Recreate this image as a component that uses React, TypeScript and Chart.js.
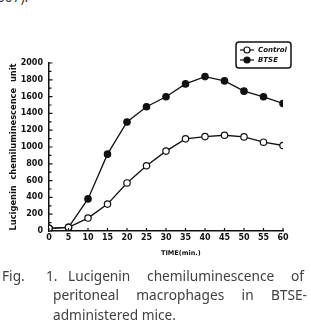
import React, { useEffect, useRef } from "react";
import { Chart, registerables } from "chart.js";

Chart.register(...registerables);

const times = [0, 5, 10, 15, 20, 25, 30, 35, 40, 45, 50, 55, 60];
const controlValues = [32, 44, 154, 320, 572, 777, 951, 1097, 1124, 1140, 1120, 1057, 1018];
const btseValues = [32, 44, 382, 915, 1298, 1479, 1598, 1751, 1838, 1787, 1665, 1598, 1518];
const seriesNames = ["Control", "BTSE"];
const yTickLabels = [0, 200, 400, 600, 800, 1000, 1200, 1400, 1600, 1800, 2000];
const xTickLabels = [0, 5, 10, 15, 20, 25, 30, 35, 40, 45, 50, 55, 60];
const yTitle = "Lucigenin  chemiluminescence  unit";
const xTitle = "TIME(min.)";

const tickFont = { family: "'DejaVu Sans', sans-serif", size: 8, weight: "bold" as const };

const innerTicks = {
  id: "innerTicks",
  afterDraw(chart: any) {
    const ctx = chart.ctx;
    const xs = chart.scales.x;
    const ys = chart.scales.y;
    const area = chart.chartArea;
    ctx.save();
    ctx.strokeStyle = "#111";
    ctx.lineWidth = 1.2;
    ctx.beginPath();
    for (const t of xTickLabels) {
      const px = xs.getPixelForValue(t);
      ctx.moveTo(px, area.bottom);
      ctx.lineTo(px, area.bottom - 3);
    }
    for (let v = 0; v <= 2000; v += 100) {
      const py = ys.getPixelForValue(v);
      ctx.moveTo(area.left, py);
      ctx.lineTo(area.left + (v % 200 === 0 ? 3.5 : 2.5), py);
    }
    ctx.stroke();
    ctx.restore();
  },
};

const legendBox = {
  id: "legendBox",
  afterDraw(chart: any) {
    const ctx = chart.ctx;
    const x0 = 236, y0 = 42, w = 55, h = 26, r = 3;
    ctx.save();
    ctx.strokeStyle = "#111";
    ctx.lineWidth = 1.5;
    ctx.beginPath();
    ctx.roundRect(x0, y0, w, h, r);
    ctx.stroke();
    const rows = [y0 + 8, y0 + 18];
    chart.data.datasets.forEach((ds: any, i: number) => {
      const y = rows[i];
      ctx.lineWidth = 1.2;
      ctx.strokeStyle = "#111";
      ctx.beginPath();
      ctx.moveTo(x0 + 4, y);
      ctx.lineTo(x0 + 18, y);
      ctx.stroke();
      ctx.beginPath();
      ctx.arc(x0 + 11, y, 3, 0, Math.PI * 2);
      ctx.fillStyle = ds.pointBackgroundColor;
      ctx.fill();
      ctx.stroke();
      ctx.fillStyle = "#111";
      ctx.font = "italic bold 7px 'DejaVu Sans', sans-serif";
      ctx.textBaseline = "middle";
      ctx.fillText(ds.label, x0 + 22, y + 0.5);
    });
    ctx.restore();
  },
};

function ChartCanvas() {
  const ref = useRef<HTMLCanvasElement | null>(null);
  useEffect(() => {
    if (!ref.current) return;
    const chart = new Chart(ref.current, {
      type: "line",
      data: {
        labels: times,
        datasets: [
          {
            label: seriesNames[0],
            data: times.map((t, i) => ({ x: t, y: controlValues[i] })),
            borderColor: "#111",
            borderWidth: 1.3,
            pointRadius: 3.2,
            pointBorderWidth: 1.2,
            pointBackgroundColor: "#ffffff",
            pointBorderColor: "#111",
            tension: 0,
          },
          {
            label: seriesNames[1],
            data: times.map((t, i) => ({ x: t, y: btseValues[i] })),
            borderColor: "#111",
            borderWidth: 1.3,
            pointRadius: 3.2,
            pointBorderWidth: 1.2,
            pointBackgroundColor: "#111",
            pointBorderColor: "#111",
            tension: 0,
          },
        ],
      },
      options: {
        animation: false,
        responsive: false,
        maintainAspectRatio: false,
        devicePixelRatio: 1,
        layout: { padding: { left: 0, top: 63, right: 28, bottom: 73 } },
        plugins: { legend: { display: false }, tooltip: { enabled: false } },
        scales: {
          x: {
            type: "linear",
            min: 0,
            max: 60,
            afterFit: (s: any) => { s.height = 20; },
            afterBuildTicks: (s: any) => { s.ticks = xTickLabels.map((v) => ({ value: v })); },
            grid: { display: false, drawTicks: false },
            border: { display: true, color: "#111", width: 1.5 },
            ticks: { color: "#111", font: tickFont, padding: 2, maxRotation: 0, autoSkip: false, callback: (v: any) => String(v) },
          },
          y: {
            min: 0,
            max: 2000,
            afterFit: (s: any) => { s.width = 49; },
            afterBuildTicks: (s: any) => { s.ticks = yTickLabels.map((v) => ({ value: v })); },
            grid: { display: false, drawTicks: false },
            border: { display: true, color: "#111", width: 1.5 },
            ticks: { color: "#111", font: tickFont, padding: 6, autoSkip: false, callback: (v: any) => String(v) },
            title: {
              display: true,
              text: yTitle,
              color: "#111",
              font: { family: "'DejaVu Sans', sans-serif", size: 8.3, weight: "bold" },
              padding: { top: 9, bottom: 0 },
            },
          },
        },
      },
      plugins: [innerTicks, legendBox],
    });
    return () => chart.destroy();
  }, []);
  return <canvas ref={ref} width={311} height={324} style={{ position: "absolute", left: 0, top: 0, width: 311, height: 324 }} />;
}

const captionFont: React.CSSProperties = {
  position: "absolute",
  fontFamily: "'Noto Sans', sans-serif",
  fontSize: 13.7,
  color: "#404040",
  whiteSpace: "nowrap",
  lineHeight: "16px",
};

export default function App() {
  return (
    <div style={{ position: "absolute", left: 0, top: 0, width: 311, height: 324, overflow: "hidden", background: "#fff" }}>
      <div style={{ ...captionFont, left: -3, top: -11 }}>007).</div>
      <ChartCanvas />
      <div
        style={{
          position: "absolute",
          left: 161,
          top: 249,
          fontFamily: "'DejaVu Sans', sans-serif",
          fontWeight: "bold",
          fontSize: 6.5,
          color: "#111",
          whiteSpace: "nowrap",
        }}
      >
        {xTitle}
      </div>
      <div style={{ ...captionFont, left: 2, top: 268 }}>Fig.</div>
      <div style={{ ...captionFont, left: 46, top: 268 }}>1.</div>
      <div style={{ ...captionFont, left: 68, top: 268, width: 236, whiteSpace: "normal", textAlign: "justify", textAlignLast: "justify" }}>
        Lucigenin chemiluminescence of
      </div>
      <div style={{ ...captionFont, left: 53, top: 287, width: 254, whiteSpace: "normal", textAlign: "justify", textAlignLast: "justify" }}>
        peritoneal macrophages in BTSE-
      </div>
      <div style={{ ...captionFont, left: 53, top: 307 }}>administered mice.</div>
    </div>
  );
}
